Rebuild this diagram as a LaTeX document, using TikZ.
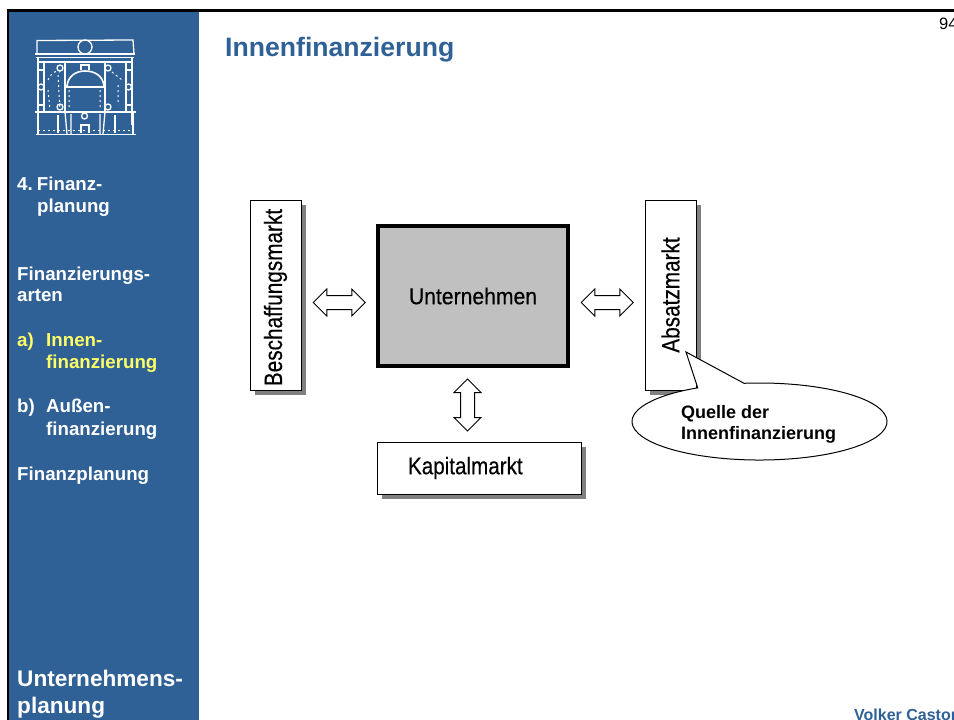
\documentclass[tikz,border=0pt]{standalone}
\usepackage{fontspec}
\setmainfont{Liberation Sans}
\newfontfamily\heavyfont[FakeBold=0.4]{Liberation Sans}
\usetikzlibrary{shapes.arrows,shapes.geometric,calc,positioning}
\definecolor{sideblue}{HTML}{2F6096}
\definecolor{sideyellow}{HTML}{FFFF66}
\definecolor{boxgray}{HTML}{C0C0C0}
\definecolor{shadowgray}{HTML}{808080}
\tikzset{
  x=1pt,y=-1pt,
  side/.style={anchor=base west,inner sep=0,text=white,font=\fontsize{18.7}{22}\selectfont\bfseries},
  sideY/.style={side,text=sideyellow},
  bigside/.style={side,font=\fontsize{22.6}{26}\selectfont\bfseries},
  market/.style={draw=black,line width=1pt,fill=white,inner sep=0,font=\fontsize{25}{28}\heavyfont},
  hollow/.style={double arrow,draw=black,line width=1pt,fill=white,inner xsep=0,inner ysep=0,
     minimum height=52pt,double arrow head extend=6.5pt,double arrow tip angle=90},
  logo/.style={draw=white,line width=1.3pt},
  logothin/.style={draw=white,line width=1pt,dash pattern=on 2pt off 3pt},
  call/.style={draw=black,line width=1pt,fill=white},
  calltext/.style={anchor=base west,inner sep=0,font=\fontsize{18}{20}\selectfont\bfseries}
}
\newcommand{\shaftstrut}{\rule{0pt}{13pt}}
\begin{document}
\begin{tikzpicture}
\useasboundingbox (0,0) rectangle (954,720);
\clip (0,0) rectangle (954,720);
\fill[white] (0,0) rectangle (954,720);
% frame and sidebar
\fill[sideblue] (9,11) rectangle (199,720);
\fill[black] (7,9) rectangle (954,11.5);
\fill[black] (7,9) rectangle (9.3,720);
% logo
\draw[logo] (37,54) -- (37,40.5) -- (133,40) -- (134,54);
\draw[logo] (85,47) circle[radius=7];
\draw[logo] (35,54) -- (135,54) (36,57.5) -- (134,57.5) (37,62) -- (133,62);
\draw[logo] (38,58) -- (38,125) (44,62) -- (44,111) (126,62) -- (126,111) (132,58) -- (132,125);
\draw[logo,line width=1.8pt] (65,62) -- (65,112) (105,62) -- (105,112) (65,87) -- (105,87);
\draw[logo,line width=1.6pt] (67,86) .. controls (68,76) and (76,71) .. (85,71) .. controls (95,71) and (103,76) .. (104,86);
\draw[logo] (81,70) -- (81,65) -- (89,65) -- (89,70);
\draw[logo] (60,68) circle[radius=3] (108,68) circle[radius=3]
  (41,87) circle[radius=3] (128.5,87) circle[radius=3]
  (60,107) circle[radius=3] (108,107) circle[radius=3] (84.5,116) circle[radius=3];
\draw[logo] (35,112) -- (136,112) (36,134.5) -- (136,134.5) (38,112) -- (38,134) (133,112) -- (133,134);
\draw[logo] (65,112) -- (67,134) (71,114) -- (71,134) (100,114) -- (100,134) (105,112) -- (103,134);
\draw[logo] (58,115) -- (58,133) (115,115) -- (115,133);
\draw[logo] (81,133) -- (81,125) -- (89,125) -- (89,133);
\draw[logo] (38,105) -- (44,105) (126,105) -- (132,105) (38,70) -- (44,70) (126,70) -- (132,70);
\draw[logothin] (38,130) -- (133,130);
\draw[logothin] (48,80) .. controls (52,72) and (56,70) .. (60,72) (58,75) -- (60,110) (48,90) -- (50,110) (112,72) -- (122,80) (118,85) -- (118,105) (69,90) -- (69,110) (100,90) -- (100,110);
% sidebar texts
\node[side] (s1) at (17,190) {4.\kern4.2pt Finanz-};
\node[side] (s2) at (37,212) {planung};
\node[side] (s3) at (17,280) {Finanzierungs-};
\node[side] (s4) at (17,301) {arten};
\node[sideY] (s5) at (17,346) {a)};
\node[sideY] (s6) at (46,346) {Innen-};
\node[sideY] (s7) at (46,368) {finanzierung};
\node[side] (s8) at (17,412) {b)};
\node[side] (s9) at (46,412) {Außen-};
\node[side] (s10) at (46,435) {finanzierung};
\node[side] (s11) at (17,480) {Finanzplanung};
\node[bigside] (s12) at (17,686) {Unternehmens-};
\node[bigside] (s13) at (17,713) {planung};
% header / footer
\node[anchor=base west,inner sep=0,text=sideblue,font=\fontsize{26.6}{30}\selectfont\bfseries] (title) at (225,56.6) {Innenfinanzierung};
\node[anchor=base west,inner sep=0,font=\fontsize{16.5}{18}\selectfont] (page) at (939,30) {94};
\node[anchor=base west,inner sep=0,text=sideblue,font=\fontsize{16}{18}\selectfont\bfseries] (author) at (854,720) {Volker Castor};
% shadows
\fill[shadowgray] (255,205) rectangle (306,395);
\fill[shadowgray] (650,205) rectangle (701,395);
\fill[shadowgray] (382,447) rectangle (586,499);
% market boxes
\node[market,minimum width=51pt,minimum height=190pt] (besch) at (275.5,295) {\rotatebox{90}{\scalebox{.83}[1]{Beschaffungsmarkt}\kern5pt}};
\node[market,minimum width=51pt,minimum height=190pt] (absatz) at (670.5,295) {\rotatebox{90}{\scalebox{.83}[1]{Absatzmarkt}}};
\node[market,minimum width=204pt,minimum height=52pt,text width=142pt,inner xsep=31pt,align=left,font=\fontsize{24}{28}\heavyfont] (kapital) at (479,468) {\scalebox{.86}[1]{Kapitalmarkt}};
\node[draw=black,line width=4pt,fill=boxgray,minimum width=190pt,minimum height=140pt,inner sep=0,outer sep=2pt,font=\fontsize{23}{28}\heavyfont] (unter) at (473,296) {\raisebox{-1pt}{\scalebox{.92}[1]{Unternehmen}}};
% double arrows
\node[hollow] (a1) at ($(besch.east)!.5!(unter.west)+(.5,7)$) {\shaftstrut};
\node[hollow] (a2) at ($(unter.east)!.5!(absatz.west)+(0,7)$) {\shaftstrut};
\coordinate (kt) at (467.5,442);
\node[hollow,rotate=90] (a3) at ($(unter.south -| kt)!.5!(kt)$) {\shaftstrut};
% callout
\coordinate (qc) at (759.5,421.5);
\coordinate (tip) at (686,352);
\draw[call] (tip) -- ($(qc)+(-15.5,-38.2)$) arc[start angle=97,end angle=-241,x radius=127.5pt,y radius=38.5pt] -- cycle;
\node[calltext] (q1) at (681,418) {Quelle der};
\node[calltext] (q2) at (681,439) {Innenfinanzierung};
\end{tikzpicture}
\end{document}
